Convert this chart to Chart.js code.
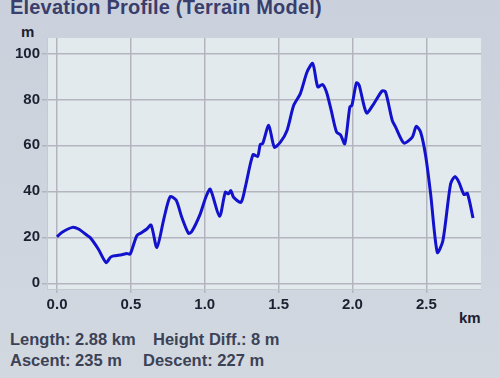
<!DOCTYPE html>
<html>
<head>
<meta charset="utf-8">
<script src="https://cdn.jsdelivr.net/npm/chart.js@4"></script>
<style>
  html, body { margin: 0; padding: 0; }
  body {
    width: 500px; height: 378px; overflow: hidden; position: relative;
    background: linear-gradient(#cbd1dc, #d2d8e0);
    font-family: "Liberation Sans", Arial, sans-serif;
  }
  #chart { position: absolute; left: 0; top: 0; }
  .txt { position: absolute; font-weight: bold; white-space: pre; }
  #title { left: 10px; top: -4px; font-size: 20px; letter-spacing: 0.2px; color: #3a3e6c; }
  #unitY { left: 21px; top: 23px; font-size: 15px; color: #1c2030; }
  #unitX { left: 459px; top: 309px; font-size: 15px; color: #1c2030; }
  .foot { font-size: 16.5px; color: #3c4255; }
</style>
</head>
<body>
<div id="title" class="txt">Elevation Profile (Terrain Model)</div>
<div id="unitY" class="txt">m</div>
<div id="unitX" class="txt">km</div>
<div class="txt foot" style="left:10px; top:330px">Length: 2.88 km</div>
<div class="txt foot" style="left:153px; top:330px">Height Diff.: 8 m</div>
<div class="txt foot" style="left:10px; top:351px">Ascent: 235 m</div>
<div class="txt foot" style="left:143px; top:351px">Descent: 227 m</div>
<canvas id="chart" width="500" height="378"></canvas>
<script>
// distance along the track (km) and elevation (m)
const distanceKm = [0, 0.032, 0.104, 0.145, 0.2, 0.224, 0.28, 0.332, 0.36, 0.382, 0.438, 0.472, 0.495,
  0.54, 0.574, 0.608, 0.637, 0.676, 0.725, 0.766, 0.806, 0.845, 0.89, 0.912, 0.969, 1.007, 1.037,
  1.1, 1.139, 1.161, 1.177, 1.195, 1.245, 1.274, 1.326, 1.358, 1.376, 1.392, 1.433, 1.471, 1.512,
  1.557, 1.602, 1.647, 1.693, 1.731, 1.765, 1.797, 1.824, 1.856, 1.892, 1.919, 1.948, 1.982, 1.996,
  2.027, 2.045, 2.095, 2.145, 2.201, 2.224, 2.269, 2.292, 2.348, 2.405, 2.432, 2.461, 2.495, 2.529,
  2.574, 2.612, 2.664, 2.694, 2.721, 2.755, 2.778, 2.816];
const elevationM = [20.2, 22.1, 24.3, 23.6, 21, 19.9, 14.8, 9, 11.2, 11.9, 12.4, 12.9, 12.7,
  20.7, 22.1, 23.6, 25.3, 15.6, 28.6, 37.7, 36.2, 28.6, 21.7, 22.5, 30.1, 37.4, 40.9,
  29.1, 39.6, 38.9, 40.3, 37.4, 35.2, 41.7, 55.9, 55.2, 60.4, 60.7, 68.7, 59.2, 61.4,
  66.5, 77.4, 82.5, 92, 95.6, 85.4, 86.5, 83.2, 75.2, 65.8, 64.6, 60.7, 76.7, 77.4,
  87.2, 86.2, 74.1, 78.2, 83.7, 83.2, 70.9, 67.9, 61, 63.6, 68.3, 65.8, 55.6, 38.9,
  13.4, 18.5, 43.2, 46.4, 43.9, 38.6, 39.1, 28.4];
const xTicks = [0, 0.5, 1.0, 1.5, 2.0, 2.5];
const yTicks = [0, 20, 40, 60, 80, 100];

const plotBg = {
  id: 'plotBg',
  beforeDraw(chart) {
    const { ctx, chartArea: a } = chart;
    ctx.save();
    ctx.fillStyle = '#e2eaee';
    ctx.fillRect(a.left, a.top, a.right - a.left, a.bottom - a.top);
    ctx.restore();
  }
};

const tickFont = { family: '"Liberation Sans", Arial, sans-serif', size: 15, weight: 'bold' };

new Chart(document.getElementById('chart'), {
  type: 'line',
  data: {
    datasets: [{
      data: distanceKm.map((d, i) => ({ x: d, y: elevationM[i] })),
      borderColor: '#1212cc',
      borderWidth: 3,
      pointRadius: 0,
      tension: 0.25,
      fill: false
    }]
  },
  options: {
    responsive: false,
    animation: false,
    layout: { padding: { left: 0, top: 38, right: 19, bottom: 59 } },
    plugins: { legend: { display: false }, tooltip: { enabled: false } },
    scales: {
      x: {
        type: 'linear', min: -0.068, max: 2.87,
        afterBuildTicks: s => { s.ticks = xTicks.map(v => ({ value: v })); },
        afterFit: s => { s.height = 30; },
        ticks: { font: tickFont, color: '#1c2030', padding: 3, callback: v => v.toFixed(1) },
        grid: { color: '#b3b4bd', lineWidth: 1.5, tickLength: 4 },
        border: { color: '#c4c9d2', width: 1 }
      },
      y: {
        min: -2.5, max: 106.7,
        afterBuildTicks: s => { s.ticks = yTicks.map(v => ({ value: v })); },
        afterFit: s => { s.width = 47; },
        ticks: { font: tickFont, color: '#1c2030', padding: 2 },
        grid: { color: '#b3b4bd', lineWidth: 1.5, tickLength: 5 },
        border: { color: '#c4c9d2', width: 1 }
      }
    }
  },
  plugins: [plotBg]
});
</script>
</body>
</html>
